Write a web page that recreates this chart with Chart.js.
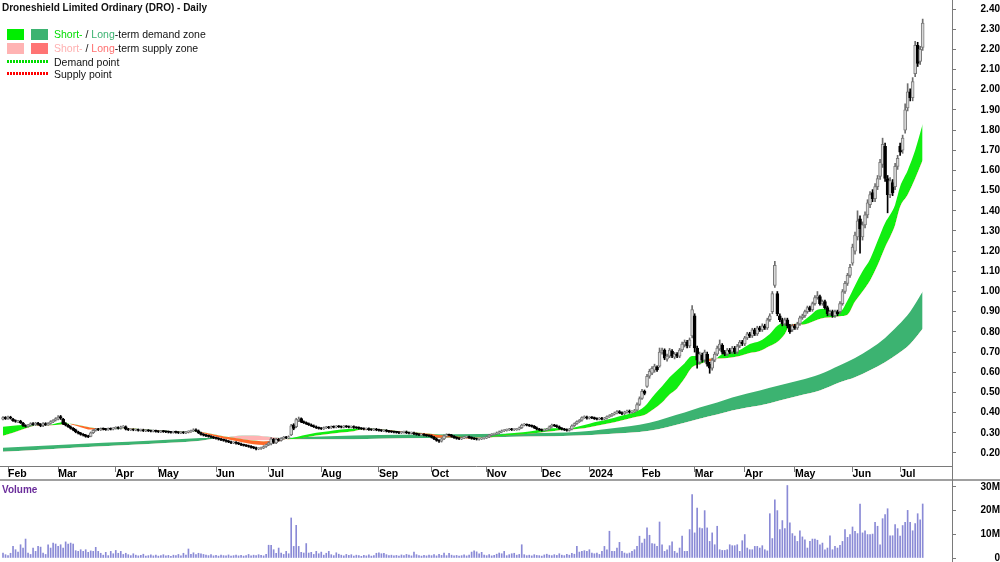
<!DOCTYPE html>
<html><head><meta charset="utf-8">
<script src="https://cdn.jsdelivr.net/npm/chart.js"></script>
<style>
html,body{margin:0;padding:0;width:1000px;height:562px;overflow:hidden;background:#fff;font-family:"Liberation Sans",Arial,sans-serif;}
#price{position:absolute;left:0;top:0;}
#vol{position:absolute;left:0;top:481px;}
.sep{position:absolute;left:0;top:479px;width:1000px;height:2px;background:#a0a0a0;}
.vline{position:absolute;left:952px;top:0;width:1px;height:562px;background:#7a7a7a;}
#title{position:absolute;left:2px;top:1px;font-size:10px;font-weight:bold;line-height:13px;color:#111;white-space:nowrap;}
.box{position:absolute;width:17px;height:11px;}
.txt{position:absolute;left:54px;font-size:10.5px;line-height:12px;color:#111;white-space:nowrap;}
.dots{position:absolute;left:7px;width:42px;height:3px;}
#vlabel{position:absolute;left:2px;top:484px;font-size:10px;font-weight:bold;color:#6a2c9a;line-height:12px;}
</style></head>
<body>
<canvas id="price" width="1000" height="480"></canvas>
<canvas id="vol" width="1000" height="81"></canvas>
<div class="sep"></div>
<div class="vline"></div>
<div id="title">Droneshield Limited Ordinary (DRO) - Daily</div>
<div class="box" style="left:7px;top:29px;background:#00ee00"></div>
<div class="box" style="left:31px;top:29px;background:#3cb371"></div>
<div class="txt" style="top:28px"><span style="color:#00dd00">Short-</span> / <span style="color:#3cb371">Long</span>-term demand zone</div>
<div class="box" style="left:7px;top:43px;background:#ffb3b3"></div>
<div class="box" style="left:31px;top:43px;background:#ff7474"></div>
<div class="txt" style="top:42px"><span style="color:#ffb0b0">Short-</span> / <span style="color:#ff6f6f">Long</span>-term supply zone</div>
<div class="dots" style="top:60px;background:repeating-linear-gradient(90deg,#00dd00 0 2px,transparent 2px 3px)"></div>
<div class="txt" style="top:56px">Demand point</div>
<div class="dots" style="top:72px;background:repeating-linear-gradient(90deg,#ff0000 0 2px,transparent 2px 3px)"></div>
<div class="txt" style="top:68px">Supply point</div>
<div id="vlabel">Volume</div>
<script>
// ---- categories (ASX trading days) ----
const firstTradingDay = '2023-01-30';
const holidays = ['2023-04-07','2023-04-10','2023-04-25','2023-06-12','2023-12-25','2023-12-26',
  '2024-01-01','2024-01-26','2024-03-29','2024-04-01','2024-04-25','2024-06-10'];
const monthNames = ['Jan','Feb','Mar','Apr','May','Jun','Jul','Aug','Sep','Oct','Nov','Dec'];

// ---- price series ----
const opens = [
.368,.376,.370,.378,.368,.360,.354,.358,.348,.336,
.332,.338,.346,.340,.348,.342,.335,.346,.340,.346,
.354,.362,.368,.380,.368,.345,.338,.330,.322,.315,
.305,.298,.292,.288,.284,.282,.300,.312,.318,.315,
.320,.318,.316,.320,.318,.322,.326,.322,.328,.330,
.318,.315,.316,.314,.315,.312,.314,.310,.312,.310,
.308,.310,.307,.305,.308,.306,.305,.303,.302,.304,
.302,.300,.302,.300,.303,.306,.310,.315,.310,.300,
.292,.288,.285,.282,.278,.275,.272,.268,.265,.262,
.258,.255,.250,.252,.248,.245,.240,.238,.235,.232,
.228,.225,.220,.222,.225,.232,.240,.245,.268,.250,
.268,.262,.272,.278,.275,.290,.340,.330,.360,.370,
.355,.350,.345,.340,.335,.330,.325,.322,.320,.325,
.328,.325,.330,.328,.332,.330,.328,.332,.330,.328,
.330,.326,.325,.322,.320,.318,.320,.316,.315,.318,
.314,.312,.310,.312,.308,.306,.305,.303,.302,.300,
.302,.305,.300,.298,.300,.295,.292,.290,.292,.288,
.286,.285,.278,.270,.262,.258,.270,.285,.290,.288,
.282,.276,.272,.270,.275,.278,.280,.276,.272,.270,
.268,.270,.272,.275,.280,.288,.292,.295,.300,.305,
.310,.312,.315,.318,.315,.316,.318,.325,.338,.340,
.338,.335,.332,.325,.318,.315,.312,.315,.318,.330,
.338,.335,.330,.322,.318,.315,.312,.318,.335,.345,
.355,.362,.375,.378,.372,.376,.374,.370,.368,.372,
.368,.372,.380,.385,.392,.398,.405,.400,.395,.402,
.408,.402,.405,.412,.440,.470,.505,.530,.580,.595,
.610,.625,.630,.700,.710,.665,.680,.705,.675,.690,
.680,.710,.735,.750,.730,.780,.880,.720,.650,.685,
.660,.690,.640,.620,.660,.690,.715,.735,.700,.690,
.710,.700,.720,.700,.730,.750,.740,.770,.790,.780,
.810,.790,.820,.810,.830,.820,.860,.900,1.030,.990,
.880,.860,.840,.860,.830,.810,.830,.820,.840,.870,
.880,.900,.920,.910,.940,.970,.975,.940,.950,.920,
.890,.900,.880,.900,.900,.940,1.000,1.040,1.080,1.140,
1.200,1.270,1.360,1.270,1.330,1.380,1.430,1.490,1.460,1.520,
1.570,1.630,1.720,1.560,1.480,1.540,1.520,1.620,1.720,1.700,
1.800,1.910,1.990,1.960,2.080,2.220,2.140,2.210];
const highs = [
.380,.380,.383,.382,.372,.364,.362,.362,.352,.340,
.342,.350,.350,.352,.352,.346,.350,.350,.350,.360,
.366,.375,.385,.386,.372,.350,.342,.334,.326,.318,
.308,.302,.296,.292,.288,.304,.316,.322,.322,.324,
.324,.322,.324,.324,.326,.330,.330,.333,.336,.334,
.322,.320,.320,.319,.319,.318,.318,.316,.316,.314,
.314,.314,.311,.312,.312,.310,.309,.307,.308,.308,
.306,.306,.306,.307,.310,.314,.320,.319,.314,.304,
.296,.292,.289,.286,.282,.279,.276,.272,.269,.266,
.262,.259,.256,.256,.252,.249,.244,.242,.239,.236,
.232,.229,.226,.229,.236,.244,.255,.276,.272,.272,
.272,.276,.282,.282,.285,.342,.345,.372,.378,.374,
.359,.354,.349,.344,.339,.334,.329,.326,.329,.332,
.332,.334,.334,.336,.336,.334,.336,.336,.334,.334,
.334,.330,.329,.326,.324,.324,.324,.320,.322,.322,
.318,.316,.316,.316,.312,.310,.309,.307,.306,.306,
.309,.309,.304,.304,.304,.299,.296,.296,.296,.292,
.290,.289,.282,.274,.266,.275,.290,.295,.294,.292,
.286,.280,.276,.279,.282,.284,.284,.280,.276,.274,
.274,.276,.279,.284,.292,.296,.299,.304,.309,.314,
.316,.319,.322,.322,.320,.322,.329,.343,.346,.344,
.342,.339,.336,.329,.322,.319,.319,.322,.334,.343,
.342,.339,.334,.326,.322,.319,.322,.339,.349,.359,
.366,.379,.384,.383,.380,.380,.378,.374,.376,.376,
.376,.384,.390,.396,.403,.410,.410,.404,.407,.413,
.413,.410,.416,.448,.478,.515,.512,.590,.615,.628,
.640,.632,.720,.720,.716,.690,.718,.712,.698,.698,
.718,.750,.760,.758,.770,.930,.890,.730,.700,.695,
.710,.700,.650,.670,.700,.730,.760,.742,.708,.718,
.718,.728,.728,.738,.758,.758,.778,.798,.798,.818,
.818,.828,.828,.840,.838,.868,.890,1.000,1.150,1.000,
.890,.868,.868,.868,.838,.838,.838,.848,.878,.888,
.908,.928,.928,.948,.980,1.000,.982,.958,.958,.928,
.908,.908,.908,.908,.950,1.010,1.050,1.090,1.135,1.235,
1.295,1.400,1.375,1.345,1.395,1.455,1.495,1.505,1.535,1.575,
1.655,1.760,1.735,1.575,1.565,1.555,1.635,1.675,1.735,1.775,
1.930,2.030,2.005,2.060,2.240,2.235,2.215,2.350];
const lows = [
.364,.366,.366,.368,.356,.352,.350,.346,.332,.328,
.328,.334,.336,.336,.338,.330,.330,.336,.336,.342,
.350,.358,.364,.366,.340,.334,.326,.318,.310,.300,
.294,.288,.284,.278,.276,.280,.296,.308,.311,.311,
.314,.312,.312,.314,.314,.318,.318,.318,.324,.314,
.311,.311,.310,.310,.308,.308,.306,.306,.306,.304,
.304,.303,.301,.301,.302,.301,.299,.298,.298,.298,
.296,.296,.296,.296,.299,.302,.306,.306,.296,.288,
.284,.281,.278,.274,.271,.268,.264,.261,.258,.254,
.251,.246,.246,.244,.241,.236,.234,.231,.228,.224,
.221,.215,.216,.218,.221,.228,.236,.240,.247,.246,
.258,.258,.268,.271,.271,.286,.315,.325,.355,.350,
.346,.341,.336,.331,.326,.321,.318,.316,.316,.321,
.321,.321,.324,.324,.326,.324,.324,.326,.324,.324,
.322,.321,.318,.316,.314,.314,.312,.311,.311,.310,
.308,.306,.306,.304,.302,.301,.299,.298,.296,.296,
.298,.296,.294,.294,.291,.288,.286,.286,.284,.282,
.281,.274,.266,.258,.252,.254,.266,.281,.284,.278,
.272,.268,.266,.266,.271,.274,.272,.268,.266,.264,
.264,.266,.268,.271,.276,.284,.288,.291,.296,.301,
.306,.308,.311,.311,.311,.312,.314,.321,.334,.334,
.331,.328,.321,.314,.311,.308,.308,.311,.314,.326,
.331,.326,.318,.314,.311,.308,.308,.314,.331,.341,
.351,.358,.371,.367,.368,.370,.366,.364,.364,.364,
.364,.368,.376,.381,.388,.394,.395,.390,.390,.397,
.397,.397,.400,.408,.435,.465,.488,.525,.570,.588,
.600,.604,.625,.690,.662,.655,.672,.672,.666,.672,
.672,.702,.725,.720,.722,.770,.700,.620,.640,.650,
.650,.630,.595,.610,.652,.682,.708,.690,.682,.682,
.692,.692,.692,.692,.722,.732,.732,.762,.772,.772,
.782,.782,.802,.802,.812,.812,.852,.890,1.020,.880,
.850,.830,.832,.820,.792,.802,.812,.812,.832,.862,
.872,.892,.902,.902,.932,.962,.932,.932,.912,.880,
.882,.872,.872,.880,.892,.932,.990,1.030,1.070,1.130,
1.185,1.255,1.190,1.255,1.315,1.365,1.415,1.445,1.445,1.505,
1.555,1.615,1.545,1.390,1.465,1.475,1.505,1.605,1.675,1.685,
1.785,1.895,1.945,1.945,2.065,2.115,2.125,2.195];
const closes = [
.375,.370,.378,.372,.360,.356,.358,.350,.336,.332,
.338,.345,.340,.348,.342,.335,.345,.340,.345,.355,
.362,.370,.378,.372,.345,.338,.330,.322,.315,.305,
.298,.292,.288,.282,.280,.300,.312,.318,.315,.320,
.318,.316,.320,.318,.322,.325,.322,.328,.330,.318,
.315,.316,.314,.315,.312,.314,.310,.312,.310,.308,
.310,.307,.305,.308,.306,.305,.303,.302,.304,.302,
.300,.302,.300,.303,.306,.310,.315,.310,.300,.292,
.288,.285,.282,.278,.275,.272,.268,.265,.262,.258,
.255,.250,.252,.248,.245,.240,.238,.235,.232,.228,
.225,.220,.222,.225,.232,.240,.250,.270,.252,.268,
.262,.272,.278,.275,.280,.335,.322,.365,.368,.355,
.350,.345,.340,.335,.330,.325,.322,.320,.325,.328,
.325,.330,.328,.332,.330,.328,.332,.330,.328,.330,
.326,.325,.322,.320,.318,.320,.316,.315,.318,.314,
.312,.310,.312,.308,.306,.305,.303,.302,.300,.302,
.305,.300,.298,.300,.295,.292,.290,.292,.288,.286,
.285,.278,.270,.262,.258,.270,.285,.290,.288,.282,
.276,.272,.270,.275,.278,.280,.276,.272,.270,.268,
.270,.272,.275,.280,.288,.292,.295,.300,.305,.310,
.312,.315,.318,.315,.316,.318,.325,.338,.340,.338,
.335,.332,.325,.318,.315,.312,.315,.318,.330,.338,
.335,.330,.322,.318,.315,.312,.318,.335,.345,.355,
.362,.375,.378,.372,.376,.374,.370,.368,.372,.368,
.372,.380,.385,.392,.398,.405,.400,.395,.402,.408,
.402,.405,.410,.440,.470,.505,.495,.580,.605,.620,
.630,.612,.700,.710,.670,.680,.710,.680,.690,.680,
.710,.740,.750,.730,.760,.910,.720,.660,.690,.660,
.700,.640,.620,.660,.690,.720,.740,.700,.690,.710,
.700,.720,.700,.730,.750,.740,.770,.790,.780,.810,
.790,.820,.810,.830,.820,.860,.880,.990,1.130,.890,
.860,.840,.860,.830,.800,.830,.820,.840,.870,.880,
.900,.920,.910,.940,.970,.980,.940,.950,.920,.890,
.900,.880,.900,.890,.940,1.000,1.040,1.080,1.120,1.220,
1.280,1.350,1.310,1.330,1.380,1.440,1.480,1.460,1.520,1.560,
1.640,1.730,1.560,1.480,1.550,1.490,1.620,1.660,1.690,1.760,
1.900,1.990,1.960,2.040,2.220,2.130,2.200,2.330];

// ---- volume (millions) ----
const volumes = [
2.1,1.4,1.0,2.0,4.9,3.5,2.5,5.6,4.2,8.0,
2.1,1.5,4.2,2.8,4.9,4.6,2.1,1.5,5.6,4.2,
6.3,5.9,4.9,5.6,4.2,6.8,5.9,6.3,5.9,3.1,
2.8,3.5,2.8,3.5,2.4,3.0,2.8,4.5,2.8,2.0,
1.2,2.4,1.0,2.8,1.8,3.2,2.0,2.8,1.5,2.0,
1.4,1.0,1.8,1.2,0.9,1.1,1.6,0.8,1.0,1.3,
0.9,1.2,0.8,1.0,1.4,0.9,1.1,0.7,1.2,1.0,
1.5,0.9,2.0,1.2,3.8,1.6,2.2,1.4,2.0,1.8,
1.5,1.2,1.0,1.4,0.9,1.1,0.8,1.2,1.0,0.9,
1.3,0.8,1.0,1.2,0.9,1.1,0.8,1.0,1.5,0.9,
1.2,1.0,1.4,1.1,0.9,1.6,5.4,5.4,3.5,2.0,
4.2,2.1,1.5,2.8,1.8,16.9,4.9,13.8,4.9,2.4,
2.1,6.1,2.1,2.4,1.5,2.8,1.8,2.5,1.2,2.0,
2.8,1.4,1.0,2.2,1.6,1.2,0.9,1.5,1.1,1.4,
0.8,1.2,1.0,0.7,1.1,0.9,1.3,0.8,1.0,2.0,
2.2,1.8,2.0,1.4,1.0,1.2,0.9,1.1,0.8,1.3,
1.0,1.5,1.2,0.9,2.5,1.4,1.0,0.8,1.1,0.9,
1.2,1.0,1.4,0.9,1.6,1.1,2.1,1.0,2.0,1.2,
0.9,1.1,0.8,1.0,1.3,0.9,1.2,2.5,3.0,2.6,
1.8,2.4,1.2,1.0,1.4,0.9,1.1,1.6,2.1,1.8,
2.8,1.0,1.4,1.8,2.0,1.2,1.5,5.6,1.4,1.0,
1.2,0.9,1.4,1.1,1.0,0.8,1.3,1.6,1.2,1.0,
1.4,1.1,1.8,1.2,1.0,1.5,1.2,2.0,1.6,4.9,
2.5,2.8,3.1,2.8,3.5,2.1,1.8,2.1,1.5,2.8,
4.9,3.5,11.3,2.8,2.8,4.2,6.6,2.8,2.1,1.8,
2.1,2.8,3.5,4.9,9.2,6.3,8.0,12.7,9.6,6.1,
5.9,4.9,15.2,5.6,2.8,3.5,5.2,6.8,2.8,2.1,
4.2,9.2,2.8,2.8,12.0,26.8,10.6,21.1,12.7,12.4,
20.0,12.7,7.0,10.6,5.6,13.4,3.5,3.2,3.2,3.5,
5.6,5.2,5.2,5.6,2.8,7.3,9.9,4.2,3.5,3.5,
4.9,4.9,4.2,5.2,3.5,3.0,18.7,8.2,24.6,20.0,
12.0,15.8,12.4,30.6,14.8,10.3,9.2,7.0,11.5,8.9,
7.7,4.2,7.0,8.0,8.0,7.5,5.6,6.3,3.5,4.2,
9.4,3.5,4.9,4.2,5.4,7.0,12.0,8.7,9.9,13.1,
11.3,10.3,22.8,10.6,11.5,9.9,9.9,10.1,15.1,13.4,
5.6,16.6,18.3,20.8,9.4,9.4,14.1,12.4,9.2,13.7,
15.1,20.1,15.1,11.5,14.5,18.7,16.1,22.8];

// ---- zones (read at sample days) ----
const stIdx  = [0,4,8,11,14,18,21,24,26,28,31,35,38,42,46,50,55,60,65,70,74,77,80,84,88,92,96,100,104,108,112,114,118,121,125,130,135,140,143,146,150,155,160,165,170,174,178,182,188,193,197,201,205,210,214,218,222,225,228,232,236,240,244,248,252,256,260,263,266,269,272,275,278,280,282,284,286,290,294,298,302,306,309,312,314,317,319,322,325,328,331,334,337,340,343,346,349,352,354,356,358,361,364,367];
const stFast = [.330,.335,.338,.337,.334,.337,.346,.352,.347,.338,.328,.316,.316,.318,.322,.321,.314,.310,.306,.302,.302,.308,.298,.284,.272,.262,.252,.243,.240,.250,.266,.270,.282,.290,.300,.308,.316,.320,.320,.318,.314,.307,.302,.297,.288,.275,.278,.274,.271,.278,.288,.295,.300,.306,.315,.322,.322,.316,.326,.338,.352,.362,.375,.388,.402,.430,.490,.530,.575,.610,.645,.680,.680,.672,.655,.660,.682,.700,.710,.740,.755,.790,.830,.845,.822,.830,.850,.880,.910,.915,.900,.900,.955,1.030,1.100,1.160,1.250,1.340,1.380,1.430,1.520,1.600,1.700,1.830];
const stSlow = [.285,.300,.318,.330,.337,.336,.338,.341,.345,.343,.336,.326,.321,.319,.319,.322,.318,.314,.310,.306,.304,.305,.303,.293,.283,.275,.268,.262,.258,.260,.268,.268,.272,.278,.287,.294,.302,.308,.316,.320,.318,.312,.306,.302,.296,.289,.286,.281,.277,.277,.282,.287,.290,.295,.300,.306,.312,.318,.318,.322,.332,.342,.352,.365,.377,.388,.420,.450,.490,.520,.570,.625,.640,.650,.668,.668,.668,.672,.680,.695,.705,.730,.750,.790,.832,.840,.835,.845,.860,.870,.872,.878,.885,.950,1.000,1.055,1.130,1.220,1.270,1.330,1.420,1.480,1.560,1.650];
const ltIdx  = [0,20,40,60,79,84,88,92,96,100,104,108,112,115,118,130,150,170,190,210,230,240,250,258,265,272,278,285,291,297,302,310,318,326,334,340,346,352,357,362,367];
const ltFast = [.226,.238,.250,.262,.274,.276,.272,.268,.265,.263,.263,.266,.270,.275,.278,.283,.289,.292,.294,.298,.305,.318,.332,.350,.375,.400,.425,.450,.475,.495,.510,.535,.560,.590,.635,.670,.715,.770,.830,.900,1.000];
const ltSlow = [.206,.220,.233,.246,.260,.270,.276,.283,.287,.287,.283,.278,.272,.269,.268,.268,.271,.274,.277,.281,.287,.293,.300,.310,.328,.350,.370,.390,.410,.425,.435,.460,.485,.510,.550,.575,.610,.650,.690,.740,.815];

// ---- axis tick labels ----
const priceTicks = [0.20,0.30,0.40,0.50,0.60,0.70,0.80,0.90,1.00,1.10,1.20,1.30,1.40,1.50,1.60,1.70,1.80,1.90,2.00,2.10,2.20,2.30,2.40];
const volTicks = [0,10,20,30];
const volTickLabels = ['0','10M','20M','30M'];

// ---- build tables ----
const dates = [];
{
  const d = new Date(firstTradingDay + 'T00:00:00Z');
  while (dates.length < closes.length) {
    const s = d.toISOString().slice(0,10), wd = d.getUTCDay();
    if (wd !== 0 && wd !== 6 && !holidays.includes(s)) dates.push(s);
    d.setUTCDate(d.getUTCDate() + 1);
  }
}
const monthStarts = [];
for (let i = 1; i < dates.length; i++) if (dates[i].slice(5,7) !== dates[i-1].slice(5,7)) monthStarts.push(i);
const monthLabel = i => { const m = +dates[i].slice(5,7); return m === 1 ? dates[i].slice(0,4) : monthNames[m-1]; };

const up = closes.map((c,i) => c >= opens[i]);
const wickData = highs.map((h,i) => ({x:i, y:[lows[i], h]}));
const bodyData = opens.map((o,i) => ({x:i, y:[o, closes[i]]}));
const pts = (idx, vals) => idx.map((x,k) => ({x, y: vals[k]}));

const FONT = '"Liberation Sans", Arial, sans-serif';
Chart.defaults.font.family = FONT;
const X_MIN = -1.2, X_MAX = 378.7;

const lineBase = {type:'line', borderWidth:0, pointRadius:0, pointHoverRadius:0, cubicInterpolationMode:'monotone'};

new Chart(document.getElementById('price'), {
  type: 'bar',
  data: { datasets: [
    {...lineBase, data: pts(ltIdx, ltSlow), fill:false, order:6},
    {...lineBase, data: pts(ltIdx, ltFast), fill:{target:0, above:'#3cb371', below:'#ffb3b3'}, order:5},
    {...lineBase, data: pts(stIdx, stSlow), fill:false, order:4},
    {...lineBase, data: pts(stIdx, stFast), fill:{target:2, above:'#11ee11', below:'#ff6a2a'}, order:3},
    {type:'bar', data: wickData, grouped:false, barThickness:1, borderWidth:0, minBarLength:1,
      backgroundColor: up.map(u => u ? '#6e6e6e' : '#000'), order:2},
    {type:'bar', data: bodyData, grouped:false, barThickness:3, borderWidth:1, borderSkipped:false, minBarLength:1,
      backgroundColor: up.map(u => u ? '#d8d8d8' : '#000'), borderColor: up.map(u => u ? '#7a7a7a' : '#000'), order:1}
  ]},
  options: {
    responsive:false, animation:false, events:[],
    layout:{padding:0},
    plugins:{legend:{display:false}, tooltip:{enabled:false}},
    scales: {
      x: {type:'linear', min:X_MIN, max:X_MAX, offset:false,
        afterBuildTicks: s => { s.ticks = monthStarts.map(v => ({value:v})); },
        afterFit: s => { s.height = 14; s.paddingLeft = 0; s.paddingRight = 0; },
        grid:{drawOnChartArea:false, drawTicks:true, tickLength:6, color:'#7a7a7a', offset:false},
        border:{display:true, color:'#7a7a7a'},
        ticks:{autoSkip:false, maxRotation:0, align:'start', padding:-4, color:'#000',
          font:{size:10.5, weight:'bold'}, callback: v => monthLabel(v)}
      },
      y: {position:'right', min:0.1354, max:2.4446,
        afterBuildTicks: s => { s.ticks = priceTicks.map(v => ({value:v})); },
        afterFit: s => { s.width = 48; s.paddingTop = 0; s.paddingBottom = 0; },
        grid:{drawOnChartArea:false, tickLength:4, color:'#7a7a7a'},
        border:{display:true, color:'#7a7a7a'},
        ticks:{crossAlign:'far', padding:21, color:'#000', font:{size:10, weight:'bold'}, callback: v => v.toFixed(2)}
      }
    }
  }
});

new Chart(document.getElementById('vol'), {
  type: 'bar',
  data: { datasets: [
    {data: volumes.map((v,i) => ({x:i, y:v})), grouped:false, barThickness:1, borderWidth:0, backgroundColor:'#8a8ad6'}
  ]},
  options: {
    responsive:false, animation:false, events:[],
    layout:{padding:{bottom:4}},
    plugins:{legend:{display:false}, tooltip:{enabled:false}},
    scales: {
      x: {type:'linear', min:X_MIN, max:X_MAX, offset:false, display:false},
      y: {position:'right', min:0, max:32.5,
        afterBuildTicks: s => { s.ticks = volTicks.map(v => ({value:v})); },
        afterFit: s => { s.width = 48; s.paddingTop = 0; s.paddingBottom = 0; },
        grid:{drawOnChartArea:false, tickLength:4, color:'#7a7a7a'},
        border:{display:true, color:'#7a7a7a'},
        ticks:{crossAlign:'far', padding:21, color:'#000', font:{size:10, weight:'bold'},
          callback: (v, k) => volTickLabels[volTicks.indexOf(v)]}
      }
    }
  }
});
</script>
</body></html>
